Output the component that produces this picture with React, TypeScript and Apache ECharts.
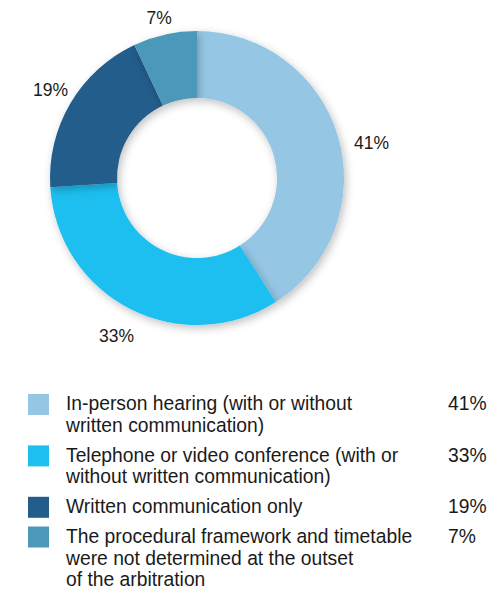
import React, { useEffect, useRef } from "react";
import * as echarts from "echarts";

const categories = [
  "In-person hearing (with or without\nwritten communication)",
  "Telephone or video conference (with or\nwithout written communication)",
  "Written communication only",
  "The procedural framework and timetable\nwere not determined at the outset\nof the arbitration",
];
const values = [41, 33, 19, 7];
const colors = ["#95C6E4", "#1DBFF0", "#235D8B", "#4B98BA"];
// label nudges (padding, px) to match the reference's hand-placed labels
const labelPadding = [
  [27, 0, 0, 17],
  [8, 4, 0, 0],
  [0, 0, 0, 5],
  [17, 0, 0, 0],
];

export default function App() {
  const ref = useRef<HTMLDivElement>(null);
  useEffect(() => {
    document.body.style.margin = "0";
    const chart = echarts.init(ref.current!, undefined, { renderer: "svg" });
    const font = "Liberation Sans";
    const fs = 19.3;
    const lineH = 21.7;
    const gap = 8;
    const graphics: any[] = [];
    let top = 394;
    categories.forEach((c, i) => {
      const lines = c.split("\n").length;
      graphics.push({
        type: "rect",
        shape: { x: 28, y: top, width: 21, height: 21 },
        style: { fill: colors[i] },
      });
      graphics.push({
        type: "text",
        x: 66,
        y: top - 1,
        style: {
          text: c,
          fill: "#1a1a1a",
          fontSize: fs,
          fontFamily: font,
          lineHeight: lineH,
          verticalAlign: "top",
        },
      });
      graphics.push({
        type: "text",
        x: 448,
        y: top - 1,
        style: {
          text: values[i] + "%",
          fill: "#1a1a1a",
          fontSize: fs,
          fontFamily: font,
          lineHeight: lineH,
          verticalAlign: "top",
        },
      });
      top += lines * lineH + gap;
    });
    const data = categories.map((c, i) => ({
      name: c,
      value: values[i],
      itemStyle: { color: colors[i] },
    }));
    chart.setOption({
      animation: false,
      graphic: graphics,
      series: [
        {
          type: "pie",
          center: [197, 178],
          radius: [80, 147],
          startAngle: 90,
          clockwise: true,
          data,
          itemStyle: {
            borderWidth: 0,
            shadowBlur: 8,
            shadowColor: "rgba(0,0,0,0.25)",
            shadowOffsetX: 2,
            shadowOffsetY: 3,
          },
          label: { show: false },
          labelLine: { show: false },
          emphasis: { disabled: true },
          silent: true,
        },
        {
          type: "pie",
          center: [197, 178],
          radius: [160, 180],
          startAngle: 90,
          clockwise: true,
          data: data.map((d, i) => ({
            ...d,
            itemStyle: { color: "rgba(0,0,0,0)" },
            label: {
              rich: {
                n: {
                  padding: labelPadding[i],
                  fontSize: 17.5,
                  fontFamily: font,
                  color: "#1a1a1a",
                },
              },
            },
          })),
          label: {
            show: true,
            position: "inside",
            formatter: "{n|{c}%}",
            fontSize: 17.5,
            fontFamily: font,
            color: "#1a1a1a",
          },
          labelLine: { show: false },
          emphasis: { disabled: true },
          silent: true,
        },
      ],
    });
    return () => chart.dispose();
  }, []);
  return <div ref={ref} style={{ width: 489, height: 589 }} />;
}
